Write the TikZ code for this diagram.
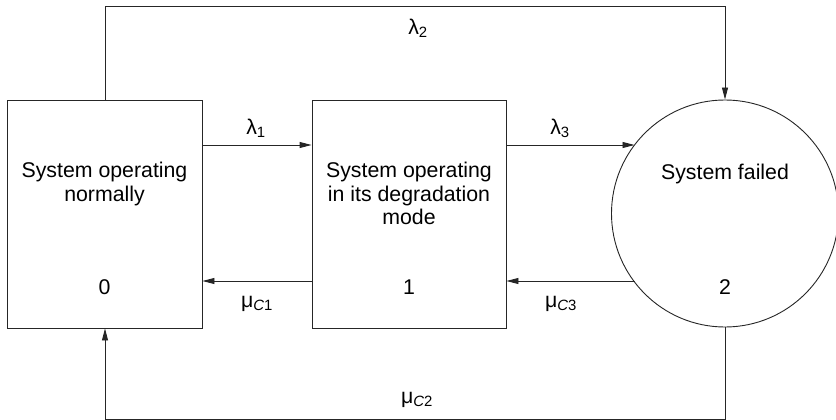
\documentclass[tikz,border=0pt]{standalone}
\usepackage{fontspec}
\setmainfont{Liberation Sans}
\usetikzlibrary{arrows.meta}
\begin{document}
\begin{tikzpicture}[x=1pt,y=-1pt,
  every node/.style={font=\fontsize{21.3}{23.5}\selectfont, inner sep=0pt},
  line/.style={line width=0.9pt, draw=black!85},
  arr/.style={line, -{Triangle[length=12pt,width=6pt]}}]
\useasboundingbox (0,0) rectangle (836,420);
% states
\node[line, draw, minimum width=195pt, minimum height=228pt] (s0) at (104.5,214) {};
\node[line, draw, minimum width=194pt, minimum height=228pt] (s1) at (409,214) {};
\node[line, draw, circle, minimum size=227pt] (s2) at (725,213.5) {};
% texts
\node[align=center, anchor=north] (t0) at (104.5,162) {System operating\\normally};
\node (n0) at (104.5,287) {0};
\node[align=center, anchor=north] (t1) at (409,162) {System operating\\in its degradation\\mode};
\node (n1) at (409,287) {1};
\node (t2) at (725,174) {System failed};
\node (n2) at (725,287) {2};
% connectors
\coordinate (c0) at (105,6);
\coordinate (c1) at (725,6);
\coordinate (c2) at (725,419);
\coordinate (c3) at (105,419);
\draw[arr] (s0.east |- 0,145) -- (s1.west |- 0,145);
\draw[arr] (s1.east |- 0,145) -- (634.5,145);
\draw[arr] (s1.west |- 0,281) -- (s0.east |- 0,281);
\draw[arr] (634.5,281) -- (s1.east |- 0,281);
\draw[arr] (s0.north -| c0) -- (c0) -- (c1) -- (s2.north);
\draw[arr] (s2.south) -- (c2) -- (c3) -- (s0.south -| c3);
% labels
\node (l1) at (256,128) {λ\textsubscript{1}};
\node (l2) at (418,28) {λ\textsubscript{2}};
\node (l3) at (560,128) {λ\textsubscript{3}};
\node (m1) at (257,304) {μ\textsubscript{\textit{C}1}};
\node (m3) at (561,304) {μ\textsubscript{\textit{C}3}};
\node (m2) at (417,400) {μ\textsubscript{\textit{C}2}};
\end{tikzpicture}
\end{document}
